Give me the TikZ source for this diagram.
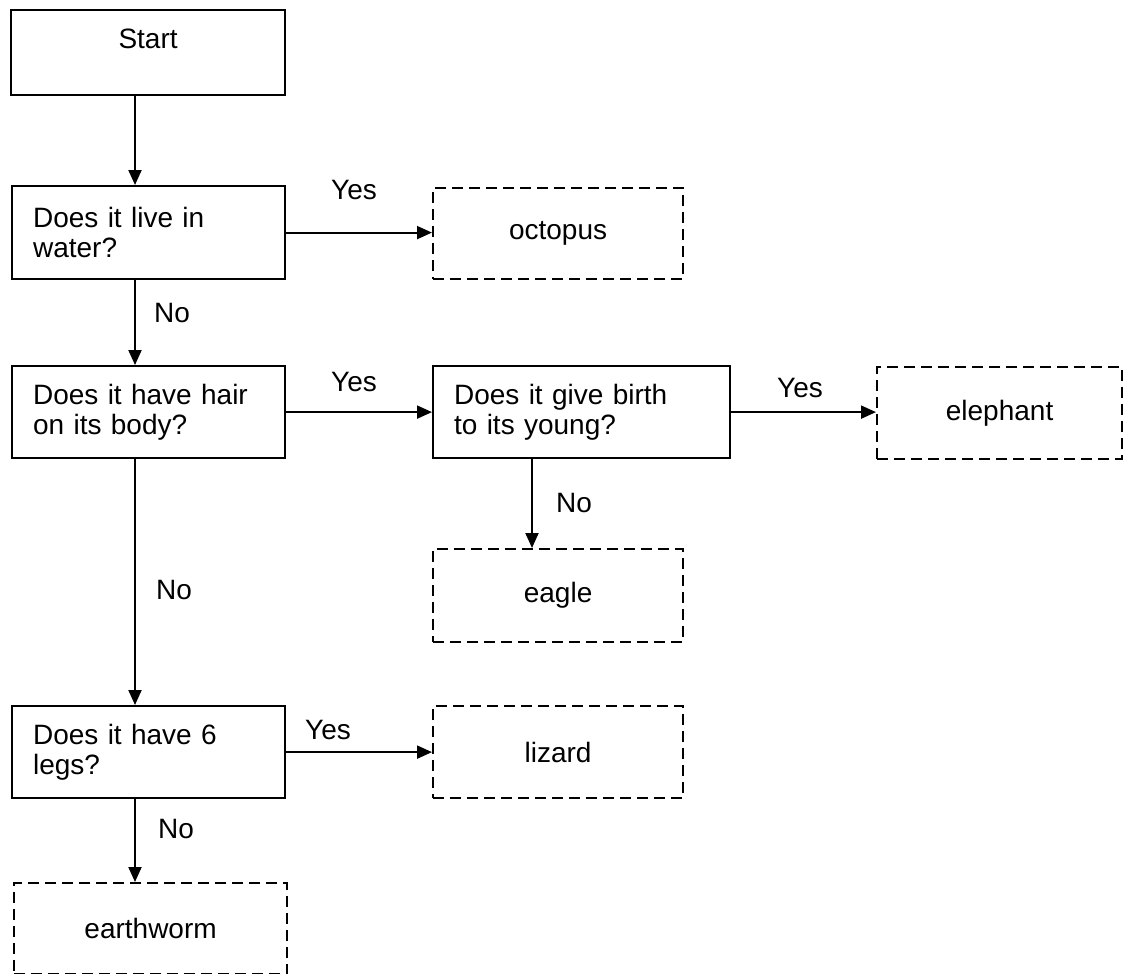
\documentclass[tikz,border=0pt]{standalone}
\usepackage{fontspec}
\setmainfont{Liberation Sans}
\usetikzlibrary{arrows.meta}
\begin{document}
\begin{tikzpicture}[x=1pt,y=-1pt,
  every node/.style={font=\fontsize{28}{30}\selectfont},
  solidbox/.style={draw,line width=2.2pt,anchor=north west,inner xsep=21pt,inner ysep=0pt,align=left},
  answerbox/.style={draw,dashed,dash pattern=on 11pt off 6pt,line width=2.2pt,anchor=north west,inner sep=0pt,align=center},
  link/.style={line width=2pt,-{Triangle[length=15pt,width=13pt]}},
  tag/.style={inner sep=0pt}]
  \useasboundingbox (0,0) rectangle (1127,974);

  % columns used by the vertical connectors
  \coordinate (colA) at (135,0);
  \coordinate (colB) at (532,0);

  % start box: word sits near the top edge
  \node[draw,line width=2.2pt,anchor=north west,inner sep=0pt,minimum width=274pt,
        text height=38pt,text depth=47pt] (start) at (10,9) {Start};

  % questions
  \node[solidbox,minimum height=93pt,text width=231pt] (q1) at (11,185) {Does it live in\\water?};
  \node[solidbox,minimum height=92pt,text width=231pt] (q2) at (11,365) {Does it have hair\\on its body?};
  \node[solidbox,minimum height=92pt,text width=255pt] (q3) at (432,365) {Does it give birth\\to its young?};
  \node[solidbox,minimum height=92pt,text width=231pt] (q4) at (11,705) {Does it have 6\\legs?};

  % answers
  \node[answerbox,minimum width=250pt,minimum height=91pt] (octopus) at (432,187) {octopus};
  \node[answerbox,minimum width=245pt,minimum height=92pt] (elephant) at (876,366) {elephant};
  \node[answerbox,minimum width=250pt,minimum height=93pt] (eagle) at (432,548) {eagle};
  \node[answerbox,minimum width=250pt,minimum height=92pt] (lizard) at (432,705) {lizard};
  \node[answerbox,minimum width=273pt,minimum height=91pt] (earthworm) at (13,882) {earthworm};

  % connectors
  \draw[link] (start.south -| colA) -- (q1.north -| colA);
  \draw[link] (q1.south -| colA) -- (q2.north -| colA);
  \draw[link] (q2.south -| colA) -- (q4.north -| colA);
  \draw[link] (q4.south -| colA) -- (earthworm.north -| colA);
  \draw[link] (q3.south -| colB) -- (eagle.north -| colB);
  \draw[link] (q1.east) -- (q1.east -| octopus.west);
  \draw[link] (q2.east) -- (q2.east -| q3.west);
  \draw[link] (q3.east) -- (q3.east -| elephant.west);
  \draw[link] (q4.east) -- (q4.east -| lizard.west);

  % branch labels
  \node[tag] (y1) at (354,190) {Yes};
  \node[tag] (n1) at (172,313) {No};
  \node[tag] (y2) at (354,382) {Yes};
  \node[tag] (y3) at (800,388) {Yes};
  \node[tag] (n3) at (574,503) {No};
  \node[tag] (n2) at (174,590) {No};
  \node[tag] (y4) at (328,730) {Yes};
  \node[tag] (n4) at (176,829) {No};
\end{tikzpicture}
\end{document}
